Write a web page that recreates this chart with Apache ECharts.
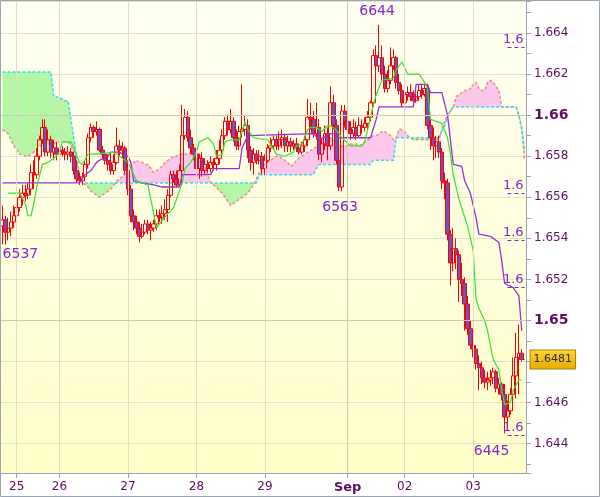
<!DOCTYPE html>
<html><head><meta charset="utf-8">
<script src="https://cdn.jsdelivr.net/npm/echarts@6/dist/echarts.min.js"></script>
<style>html,body{margin:0;padding:0;background:#fff}#c{width:600px;height:497px}</style>
</head><body><div id="c"></div>
<script>
// ---- data ----
const dayLabelIndex = [5, 20, 44, 68, 92, 121, 141, 165];
const dayLabels = ['25', '26', '27', '28', '29', 'Sep', '02', '03'];
const barCount = 184;

// [open, close, low, high]
const candles = [
[1.6546,1.6549,1.6537,1.6556],[1.6549,1.6543,1.6537,1.6551],[1.6543,1.6545,1.6539,1.6550],[1.6545,1.6548,1.6541,1.6553],
[1.6548,1.6551,1.6545,1.6556],[1.6551,1.6555,1.6548,1.6560],[1.6555,1.6560,1.6553,1.6564],[1.6560,1.6562,1.6556,1.6566],
[1.6562,1.6561,1.6558,1.6566],[1.6561,1.6564,1.6559,1.6567],[1.6564,1.6572,1.6561,1.6576],[1.6572,1.6571,1.6564,1.6578],
[1.6571,1.6580,1.6569,1.6584],[1.6580,1.6588,1.6578,1.6590],[1.6588,1.6594,1.6586,1.6598],[1.6594,1.6582,1.6580,1.6598],
[1.6582,1.6588,1.6580,1.6593],[1.6588,1.6582,1.6579,1.6590],[1.6582,1.6584,1.6578,1.6588],[1.6584,1.6581,1.6578,1.6587],
[1.6581,1.6583,1.6579,1.6585],[1.6583,1.6582,1.6580,1.6585],[1.6582,1.6581,1.6578,1.6584],[1.6581,1.6582,1.6578,1.6585],
[1.6582,1.6580,1.6577,1.6584],[1.6580,1.6573,1.6571,1.6582],[1.6573,1.6569,1.6567,1.6578],[1.6569,1.6568,1.6566,1.6572],
[1.6568,1.6570,1.6566,1.6572],[1.6570,1.6576,1.6568,1.6578],[1.6576,1.6589,1.6574,1.6591],[1.6589,1.6594,1.6587,1.6596],
[1.6594,1.6592,1.6589,1.6595],[1.6592,1.6593,1.6590,1.6597],[1.6593,1.6583,1.6582,1.6594],[1.6583,1.6581,1.6579,1.6585],
[1.6581,1.6578,1.6576,1.6583],[1.6578,1.6576,1.6573,1.6581],[1.6576,1.6573,1.6571,1.6582],[1.6573,1.6577,1.6571,1.6581],
[1.6577,1.6585,1.6576,1.6594],[1.6585,1.6583,1.6580,1.6588],[1.6583,1.6584,1.6579,1.6587],[1.6584,1.6573,1.6571,1.6585],
[1.6573,1.6564,1.6561,1.6578],[1.6564,1.6551,1.6548,1.6566],[1.6551,1.6548,1.6544,1.6554],[1.6548,1.6545,1.6542,1.6551],
[1.6545,1.6541,1.6538,1.6548],[1.6541,1.6543,1.6540,1.6547],[1.6543,1.6547,1.6542,1.6549],[1.6547,1.6544,1.6542,1.6549],
[1.6544,1.6545,1.6539,1.6548],[1.6545,1.6547,1.6543,1.6549],[1.6547,1.6551,1.6544,1.6554],[1.6551,1.6550,1.6548,1.6554],
[1.6550,1.6552,1.6547,1.6556],[1.6552,1.6554,1.6549,1.6559],[1.6554,1.6561,1.6548,1.6564],[1.6561,1.6571,1.6560,1.6573],
[1.6571,1.6569,1.6567,1.6573],[1.6569,1.6566,1.6565,1.6573],[1.6566,1.6573,1.6565,1.6576],[1.6573,1.6590,1.6572,1.6605],
[1.6590,1.6599,1.6588,1.6603],[1.6599,1.6589,1.6587,1.6602],[1.6589,1.6584,1.6581,1.6593],[1.6584,1.6581,1.6578,1.6586],
[1.6581,1.6574,1.6571,1.6583],[1.6574,1.6579,1.6569,1.6581],[1.6579,1.6573,1.6570,1.6582],[1.6573,1.6576,1.6571,1.6579],
[1.6576,1.6574,1.6572,1.6578],[1.6574,1.6577,1.6572,1.6580],[1.6577,1.6576,1.6573,1.6579],[1.6576,1.6579,1.6573,1.6583],
[1.6579,1.6583,1.6576,1.6588],[1.6583,1.6590,1.6581,1.6593],[1.6590,1.6597,1.6588,1.6599],[1.6597,1.6593,1.6590,1.6600],
[1.6593,1.6597,1.6591,1.6603],[1.6597,1.6589,1.6587,1.6599],[1.6589,1.6585,1.6583,1.6593],[1.6585,1.6592,1.6583,1.6595],
[1.6592,1.6593,1.6589,1.6615],[1.6593,1.6595,1.6590,1.6600],[1.6595,1.6583,1.6579,1.6598],[1.6583,1.6577,1.6573,1.6585],
[1.6577,1.6581,1.6571,1.6584],[1.6581,1.6578,1.6576,1.6583],[1.6578,1.6580,1.6576,1.6583],[1.6580,1.6574,1.6571,1.6582],
[1.6574,1.6578,1.6571,1.6581],[1.6578,1.6584,1.6577,1.6586],[1.6584,1.6585,1.6582,1.6589],[1.6585,1.6588,1.6583,1.6590],
[1.6588,1.6585,1.6583,1.6590],[1.6585,1.6588,1.6583,1.6592],[1.6588,1.6589,1.6584,1.6593],[1.6589,1.6585,1.6582,1.6591],
[1.6585,1.6587,1.6582,1.6590],[1.6587,1.6585,1.6582,1.6589],[1.6585,1.6586,1.6583,1.6588],[1.6586,1.6584,1.6582,1.6589],
[1.6584,1.6582,1.6581,1.6586],[1.6582,1.6585,1.6581,1.6587],[1.6585,1.6588,1.6582,1.6590],[1.6588,1.6599,1.6585,1.6608],
[1.6599,1.6598,1.6593,1.6606],[1.6598,1.6591,1.6589,1.6602],[1.6591,1.6594,1.6588,1.6606],[1.6594,1.6581,1.6578,1.6598],
[1.6581,1.6586,1.6577,1.6589],[1.6586,1.6591,1.6583,1.6595],[1.6591,1.6585,1.6578,1.6594],[1.6585,1.6606,1.6583,1.6614],
[1.6606,1.6595,1.6593,1.6610],[1.6595,1.6578,1.6576,1.6598],[1.6578,1.6565,1.6563,1.6581],[1.6565,1.6602,1.6563,1.6605],
[1.6602,1.6597,1.6594,1.6605],[1.6597,1.6593,1.6590,1.6600],[1.6593,1.6591,1.6588,1.6597],[1.6591,1.6594,1.6589,1.6598],
[1.6594,1.6590,1.6588,1.6597],[1.6590,1.6595,1.6589,1.6599],[1.6595,1.6594,1.6591,1.6598],[1.6594,1.6596,1.6592,1.6599],
[1.6596,1.6599,1.6593,1.6602],[1.6599,1.6606,1.6597,1.6607],[1.6606,1.6629,1.6604,1.6632],[1.6629,1.6624,1.6622,1.6634],
[1.6624,1.6628,1.6621,1.6644],[1.6628,1.6620,1.6617,1.6634],[1.6620,1.6613,1.6611,1.6624],[1.6613,1.6617,1.6611,1.6622],
[1.6617,1.6624,1.6615,1.6633],[1.6624,1.6628,1.6622,1.6632],[1.6628,1.6616,1.6613,1.6629],[1.6616,1.6612,1.6610,1.6620],
[1.6612,1.6606,1.6604,1.6615],[1.6606,1.6610,1.6604,1.6613],[1.6610,1.6611,1.6607,1.6614],[1.6611,1.6609,1.6607,1.6615],
[1.6609,1.6607,1.6605,1.6612],[1.6607,1.6609,1.6606,1.6611],[1.6609,1.6612,1.6607,1.6615],[1.6612,1.6610,1.6608,1.6615],
[1.6610,1.6613,1.6609,1.6615],[1.6613,1.6595,1.6593,1.6615],[1.6595,1.6589,1.6583,1.6598],[1.6589,1.6585,1.6578,1.6594],
[1.6585,1.6587,1.6579,1.6590],[1.6587,1.6582,1.6579,1.6590],[1.6582,1.6568,1.6564,1.6584],[1.6568,1.6567,1.6559,1.6572],
[1.6567,1.6542,1.6539,1.6569],[1.6542,1.6528,1.6517,1.6544],[1.6528,1.6535,1.6524,1.6545],[1.6535,1.6532,1.6525,1.6540],
[1.6532,1.6520,1.6509,1.6534],[1.6520,1.6518,1.6512,1.6528],[1.6518,1.6508,1.6495,1.6521],[1.6508,1.6496,1.6493,1.6512],
[1.6496,1.6488,1.6486,1.6500],[1.6488,1.6486,1.6482,1.6491],[1.6486,1.6479,1.6476,1.6488],[1.6479,1.6477,1.6466,1.6483],
[1.6477,1.6472,1.6469,1.6480],[1.6472,1.6470,1.6467,1.6476],[1.6470,1.6471,1.6466,1.6475],[1.6471,1.6472,1.6468,1.6476],
[1.6472,1.6475,1.6469,1.6477],[1.6475,1.6467,1.6465,1.6476],[1.6467,1.6469,1.6464,1.6472],[1.6469,1.6464,1.6461,1.6470],
[1.6464,1.6453,1.6445,1.6469],[1.6453,1.6456,1.6449,1.6461],[1.6456,1.6464,1.6454,1.6467],[1.6464,1.6473,1.6461,1.6482],
[1.6473,1.6482,1.6462,1.6494],[1.6482,1.6484,1.6464,1.6498],[1.6484,1.6481,1.6480,1.6486]
];

// Tenkan-sen (green) and Kijun-sen (purple): [bar index, value]
const tenkan = [
[2,1.6562],[6,1.6562],[8,1.6557],[9,1.6551],[10,1.6551],[11,1.6557],[12,1.6565],[14,1.6576],[16,1.6577],[18,1.6579],
[20,1.6582],[21,1.6587],[24,1.6587],[25,1.6584],[27,1.6577],[28,1.6576],[30,1.6581],[33,1.6581],[39,1.6582],[44,1.6577],
[47,1.6568],[51,1.6566],[53,1.6552],[54,1.6545],[55,1.6547],[58,1.6552],[60,1.6555],[61,1.6559],[63,1.6567],[64,1.6574],
[66,1.6577],[68,1.6582],[69,1.6587],[72,1.6589],[74,1.6586],[75,1.6580],[77,1.6581],[78,1.6587],[80,1.6588],[83,1.6588],
[85,1.6597],[86,1.6593],[88,1.6589],[93,1.6588],[96,1.6581],[99,1.6580],[102,1.6582],[103,1.6585],[105,1.6586],[107,1.6593],
[108,1.6594],[110,1.6594],[112,1.6592],[114,1.6595],[116,1.6594],[118,1.6591],[119,1.6589],[122,1.6585],[124,1.6585],[126,1.6585],
[127,1.6587],[128,1.6593],[130,1.6605],[131,1.6610],[133,1.6617],[137,1.6618],[138,1.6622],[140,1.6626],[142,1.6620],[146,1.6620],
[148,1.6616],[149,1.6613],[150,1.6598],[154,1.6596],[156,1.6589],[157,1.6581],[158,1.6571],[160,1.6559],[163,1.6546],[165,1.6534],
[166,1.6510],[167,1.6506],[169,1.6500],[170,1.6495],[172,1.6481],[174,1.6476],[175,1.6466],[176,1.6459],[178,1.6460],[179,1.6466],
[181,1.6471],[182,1.6471]
];
const kijun = [
[0,1.6567],[27,1.6567],[29,1.6571],[31,1.6573],[33,1.6577],[34,1.6578],[37,1.6580],[38,1.6582],[41,1.6582],[42,1.6581],
[44,1.6580],[45,1.6577],[46,1.6568],[49,1.6567],[53,1.6566],[56,1.6565],[62,1.6565],[63,1.6571],[73,1.6571],[74,1.6574],
[83,1.6574],[84,1.6584],[86,1.6590],[109,1.6591],[111,1.6588],[115,1.6591],[117,1.6591],[118,1.6589],[129,1.6589],[131,1.6598],
[132,1.6604],[144,1.6604],[145,1.6615],[149,1.6615],[150,1.6611],[154,1.6611],[156,1.6600],[158,1.6576],[161,1.6575],[162,1.6568],
[164,1.6562],[166,1.6550],[167,1.6542],[171,1.6541],[174,1.6538],[175,1.6529],[176,1.6518],[179,1.6516],[181,1.6512],[182,1.6495]
];

// Senkou span A (salmon dashed) and span B (cyan dashed), one value per bar
const spanA = [
1.6593,1.6592,1.6591,1.6588,1.6585,1.6583,1.6581,1.6581,1.6580,1.6580,
1.6581,1.6582,1.6583,1.6585,1.6585,1.6586,1.6586,1.6586,1.6586,1.6587,
1.6587,1.6587,1.6587,1.6587,1.6585,1.6582,1.6577,1.6571,1.6567,1.6566,
1.6565,1.6563,1.6562,1.6561,1.6560,1.6561,1.6562,1.6563,1.6564,1.6566,
1.6568,1.6569,1.6570,1.6572,1.6573,1.6575,1.6577,1.6578,1.6577,1.6577,
1.6576,1.6576,1.6574,1.6572,1.6573,1.6574,1.6575,1.6577,1.6578,1.6579,
1.6580,1.6580,1.6581,1.6581,1.6581,1.6581,1.6582,1.6582,1.6582,1.6581,
1.6578,1.6575,1.6571,1.6567,1.6566,1.6565,1.6563,1.6562,1.6560,1.6558,
1.6556,1.6557,1.6558,1.6559,1.6560,1.6561,1.6562,1.6564,1.6566,1.6569,
1.6572,1.6574,1.6576,1.6577,1.6578,1.6579,1.6580,1.6580,1.6579,1.6578,
1.6577,1.6575,1.6576,1.6578,1.6579,1.6580,1.6581,1.6582,1.6583,1.6583,
1.6585,1.6587,1.6588,1.6589,1.6589,1.6589,1.6588,1.6587,1.6585,1.6585,
1.6585,1.6585,1.6586,1.6586,1.6586,1.6585,1.6586,1.6587,1.6588,1.6589,
1.6590,1.6590,1.6591,1.6592,1.6592,1.6591,1.6590,1.6588,1.6589,1.6593,
1.6593,1.6592,1.6590,1.6589,1.6588,1.6588,1.6588,1.6588,1.6588,1.6588,
1.6588,1.6588,1.6588,1.6588,1.6593,1.6597,1.6600,1.6602,1.6604,1.6609,
1.6610,1.6611,1.6612,1.6612,1.6613,1.6615,1.6616,1.6613,1.6612,1.6612,
1.6616,1.6617,1.6616,1.6614,1.6612,1.6604,1.6604,1.6604,1.6604,1.6604,
1.6604,1.6600,1.6594,1.6578
];
const spanB = [
1.6621,1.6621,1.6621,1.6621,1.6621,1.6621,1.6621,1.6621,1.6621,1.6621,
1.6621,1.6621,1.6621,1.6621,1.6621,1.6621,1.6621,1.6621,1.6609,1.6609,
1.6608,1.6608,1.6607,1.6607,1.6598,1.6589,1.6580,1.6571,1.6567,1.6567,
1.6567,1.6567,1.6567,1.6567,1.6567,1.6567,1.6567,1.6567,1.6567,1.6567,
1.6567,1.6567,1.6567,1.6567,1.6567,1.6567,1.6567,1.6567,1.6567,1.6567,
1.6567,1.6567,1.6567,1.6567,1.6567,1.6567,1.6567,1.6567,1.6567,1.6567,
1.6567,1.6567,1.6567,1.6567,1.6567,1.6567,1.6567,1.6567,1.6567,1.6567,
1.6567,1.6567,1.6567,1.6567,1.6567,1.6567,1.6567,1.6567,1.6567,1.6567,
1.6567,1.6567,1.6567,1.6567,1.6567,1.6567,1.6567,1.6567,1.6567,1.6567,
1.6571,1.6571,1.6571,1.6571,1.6571,1.6571,1.6571,1.6571,1.6571,1.6571,
1.6571,1.6571,1.6571,1.6571,1.6571,1.6571,1.6571,1.6571,1.6571,1.6571,
1.6574,1.6576,1.6576,1.6576,1.6576,1.6576,1.6576,1.6576,1.6576,1.6576,
1.6576,1.6576,1.6576,1.6576,1.6576,1.6576,1.6576,1.6576,1.6576,1.6576,
1.6578,1.6578,1.6578,1.6578,1.6578,1.6578,1.6578,1.6578,1.6589,1.6589,
1.6589,1.6589,1.6589,1.6589,1.6589,1.6589,1.6589,1.6589,1.6589,1.6589,
1.6589,1.6589,1.6589,1.6589,1.6592,1.6595,1.6599,1.6602,1.6604,1.6604,
1.6604,1.6604,1.6604,1.6604,1.6604,1.6604,1.6604,1.6604,1.6604,1.6604,
1.6604,1.6604,1.6604,1.6604,1.6604,1.6604,1.6604,1.6604,1.6604,1.6604,
1.6604,1.6600,1.6593,1.6583
];

// right-edge level lines labelled "1.6…"
const levelValues = [1.6633, 1.6562, 1.6539, 1.6516, 1.6444];
const levelText = '1.6';
// extreme annotations
const extremeIndex = [132, 118, 0, 176];
const extremeValue = [1.6644, 1.6563, 1.6537, 1.6445];
const extremeText = ['6644', '6563', '6537', '6445'];
const lastPrice = 1.6481;

// ---- chart ----
const FONT = 'DejaVu Sans';
const AXIS_TXT = '#5e0f62';
const AXIS_LINE = '#9aa5b1';
const PURPLE = '#8426cc';
const cats = [];
for (let i = 0; i < barCount; i++) cats.push(String(i));
const toPairs = arr => arr.map(p => [String(p[0]), p[1]]);

const base = [], greenBand = [], pinkBand = [];
for (let i = 0; i < barCount; i++) {
  const a = spanA[i], b = spanB[i];
  base.push(Math.min(a, b));
  greenBand.push(Math.max(b - a, 0));
  pinkBand.push(Math.max(a - b, 0));
}

const extremeOffsets = [[-2, -13], [1, 16], [18, 10], [-13, 18]];
const markPts = extremeIndex.map((ix, k) => ({
  coord: [String(ix), extremeValue[k]], name: extremeText[k],
  label: { offset: extremeOffsets[k] }
}));

const chart = echarts.init(document.getElementById('c'), null, { renderer: 'canvas' });
const gridBg = new echarts.graphic.LinearGradient(0, 0, 0, 1, [
  { offset: 0, color: '#fffff3' }, { offset: 1, color: '#ffffc9' }
]);
const tagBg = new echarts.graphic.LinearGradient(0, 0, 0, 1, [
  { offset: 0, color: '#ffd633' }, { offset: 1, color: '#e9ab00' }
]);

const vLines = dayLabelIndex.map((ix, k) => ({
  xAxis: String(ix),
  lineStyle: { color: dayLabels[k] === 'Sep' ? '#c9c9b3' : '#e0dfc6', width: 1, type: 'solid' }
}));
vLines.push({ yAxis: 1.65, lineStyle: { color: '#cbcbb5', width: 1, type: 'solid' } });
vLines.push({ yAxis: 1.66, lineStyle: { color: '#cbcbb5', width: 1, type: 'solid' } });

chart.setOption({
  animation: false,
  backgroundColor: '#ffffff',
  grid: { left: 1, top: 1, width: 525, height: 472, show: true, backgroundColor: gridBg, borderWidth: 0 },
  xAxis: {
    type: 'category', data: cats, boundaryGap: true,
    axisLine: { show: true, lineStyle: { color: AXIS_LINE, width: 1 } },
    axisTick: { show: true, alignWithLabel: true, length: 5, lineStyle: { color: AXIS_LINE },
      interval: (idx) => dayLabelIndex.indexOf(idx) >= 0 },
    axisLabel: {
      interval: (idx) => dayLabelIndex.indexOf(idx) >= 0,
      formatter: (v) => { const k = dayLabelIndex.indexOf(Number(v)); if (k < 0) return ''; return dayLabels[k] === 'Sep' ? '{b|Sep}' : dayLabels[k]; },
      color: AXIS_TXT, fontFamily: FONT, fontSize: 12, margin: 8,
      rich: { b: { fontWeight: 'bold', fontSize: 13, color: AXIS_TXT, fontFamily: FONT } }
    },
    splitLine: { show: false }
  },
  yAxis: {
    type: 'value', position: 'right', scale: true,
    min: 1.64257, max: 1.66556, splitNumber: 11,
    axisLine: { show: true, lineStyle: { color: AXIS_LINE, width: 1 } },
    axisTick: { show: true, length: 5, lineStyle: { color: AXIS_LINE } },
    minorTick: { show: true, splitNumber: 2, length: 5, lineStyle: { color: AXIS_LINE } },
    minorSplitLine: { show: false },
    splitLine: { show: true, lineStyle: { color: '#e3e2cb', width: 1 } },
    axisLabel: {
      showMinLabel: false, showMaxLabel: false, margin: 8,
      color: AXIS_TXT, fontFamily: FONT, fontSize: 12,
      formatter: (v) => {
        if (Math.abs(v * 500 - Math.round(v * 500)) > 1e-6) return '';
        const s = String(parseFloat(v.toFixed(3)));
        if (Math.abs(v * 100 - Math.round(v * 100)) < 1e-6) return '{b|' + s + '}';
        return s;
      },
      rich: { b: { fontWeight: 'bold', fontSize: 14, color: AXIS_TXT, fontFamily: FONT } }
    }
  },
  graphic: [{
    type: 'rect', silent: true, z: 100,
    shape: { x: 0.5, y: 0.5, width: 599, height: 496 },
    style: { fill: 'none', stroke: AXIS_LINE, lineWidth: 1 }
  }],
  series: [
    { type: 'line', name: 'kumoBase', data: base, stack: 'kumo', symbol: 'none', z: 1,
      lineStyle: { opacity: 0 }, silent: true,
      markLine: { silent: true, symbol: ['none', 'none'], label: { show: false }, data: vLines } },
    { type: 'line', name: 'kumoGreen', data: greenBand, stack: 'kumo', symbol: 'none', z: 1,
      lineStyle: { opacity: 0 }, areaStyle: { color: '#b3f6a3', opacity: 1 }, silent: true },
    { type: 'line', name: 'kumoPink', data: pinkBand, stack: 'kumo', symbol: 'none', z: 1,
      lineStyle: { opacity: 0 }, areaStyle: { color: '#fcc7ea', opacity: 1 }, silent: true },
    { type: 'line', name: 'spanA', data: spanA, symbol: 'none', z: 2, silent: true,
      lineStyle: { color: '#f28a8a', width: 1.5, type: [3, 2] } },
    { type: 'line', name: 'spanB', data: spanB, symbol: 'none', z: 2, silent: true,
      lineStyle: { color: '#33dcea', width: 1.5, type: [3, 2] } },
    { type: 'candlestick', name: 'price', data: candles, barWidth: 4, z: 3,
      itemStyle: { color: 'rgba(0,0,0,0)', color0: '#6a52c4', borderColor: '#ff0000', borderColor0: '#ff0000', borderWidth: 1 },
      markPoint: {
        symbol: 'circle', symbolSize: 0, silent: true,
        label: { show: true, position: 'inside', formatter: '{b}', color: PURPLE, fontFamily: FONT, fontSize: 14 },
        data: markPts
      } },
    { type: 'line', name: 'kijun', data: toPairs(kijun), symbol: 'none', z: 4, silent: true,
      lineStyle: { color: '#9a2fd0', width: 1.3 } },
    { type: 'line', name: 'tenkan', data: toPairs(tenkan), symbol: 'none', z: 4, silent: true,
      lineStyle: { color: '#2ee62e', width: 1.2 } },
    { type: 'line', name: 'levels', data: [], symbol: 'none', z: 5, clip: false, silent: true,
      markLine: {
        silent: true, symbol: ['none', 'none'],
        data: levelValues.map(v => [
          { coord: ['177', v], lineStyle: { color: PURPLE, width: 1, type: [4, 3] },
            label: { show: true, position: 'insideEndTop', formatter: levelText, color: PURPLE, fontFamily: FONT, fontSize: 13, distance: 1 } },
          { coord: ['183', v] }
        ]).concat([[
          { coord: ['182', lastPrice], lineStyle: { color: '#ff0000', width: 1, type: 'solid' },
            label: { show: true, position: 'end', distance: 6, formatter: lastPrice.toFixed(4),
              backgroundColor: tagBg, borderColor: '#a88000', borderWidth: 1, padding: [4, 3, 3, 3],
              color: '#2a2a2a', fontFamily: FONT, fontSize: 11 } },
          { coord: ['183', lastPrice] }
        ]])
      } }
  ]
});
</script>
</body></html>
